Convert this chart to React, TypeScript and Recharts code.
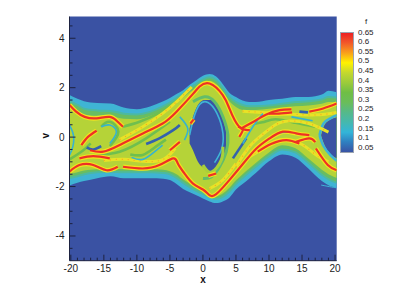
import { Area, ComposedChart, Line, ReferenceArea, XAxis, YAxis } from 'recharts';

type Pt = [number, number];

// band outlines of the phase space structure (x, then v limits)
const bandX = [-20.2, -19, -18, -16, -14, -12, -10, -8, -6, -5, -4, -3, -2, -1, 0, 1, 2, 3, 4, 5, 6, 7, 8, 10, 12, 14, 16, 18, 19, 20.25];
const tealTop = [1.7, 1.55, 1.45, 1.38, 1.36, 1.2, 1.13, 1.24, 1.45, 1.58, 1.74, 1.9, 2.12, 2.3, 2.48, 2.55, 2.45, 2.15, 1.8, 1.62, 1.48, 1.42, 1.42, 1.5, 1.55, 1.62, 1.62, 1.72, 1.88, 1.82];
const tealBot = [-1.96, -1.85, -1.78, -1.66, -1.58, -1.66, -1.66, -1.66, -1.68, -1.74, -1.9, -2.1, -2.23, -2.35, -2.48, -2.6, -2.67, -2.6, -2.45, -2.12, -1.9, -1.68, -1.45, -0.98, -0.7, -0.83, -1.28, -1.78, -1.95, -2.06];
const greenTop = [1.45, 1.3, 1.15, 1.08, 1.06, 0.95, 0.92, 1.02, 1.25, 1.4, 1.58, 1.76, 1.98, 2.15, 2.33, 2.42, 2.3, 1.98, 1.62, 1.42, 1.3, 1.25, 1.25, 1.28, 1.35, 1.42, 1.45, 1.52, 1.62, 1.6];
const greenBot = [-1.65, -1.58, -1.5, -1.42, -1.4, -1.42, -1.42, -1.42, -1.45, -1.5, -1.65, -1.85, -2.02, -2.17, -2.3, -2.42, -2.5, -2.42, -2.2, -1.9, -1.65, -1.42, -1.2, -0.78, -0.5, -0.62, -1.05, -1.52, -1.7, -1.85];
const coreTop = [1.25, 1.05, 0.92, 0.86, 0.84, 0.74, 0.72, 0.85, 1.08, 1.22, 1.4, 1.6, 1.82, 2.0, 2.2, 2.28, 2.15, 1.82, 1.45, 1.22, 1.1, 1.08, 1.1, 1.15, 1.2, 1.25, 1.28, 1.35, 1.42, 1.42];
const coreBot = [-1.5, -1.42, -1.35, -1.3, -1.28, -1.3, -1.3, -1.3, -1.32, -1.38, -1.5, -1.7, -1.88, -2.05, -2.18, -2.3, -2.38, -2.28, -2.05, -1.75, -1.5, -1.27, -1.05, -0.62, -0.33, -0.45, -0.88, -1.32, -1.5, -1.65];

// blue holes
const eyeX = [-2.02, -1.51, -0.76, 0.25, 1.26, 2.27, 3.03, 3.53];
const eyeTop = [0.35, 0.82, 1.3, 1.5, 1.5, 1.16, 0.76, 0.22];
const eyeBot = [-0.26, -0.53, -1.0, -1.27, -1.43, -1.2, -0.86, -0.46];
const ringX = [17.9, 18.4, 19.2, 20.25];
const ringTop = [0.1, 0.49, 0.69, 0.8];
const ringBot = [0.05, -0.32, -0.66, -0.86];

// filaments, as (x, v)
const red1: Pt[] = [[-20.2, 1.3], [-19.2, 1.03], [-17.9, 0.82], [-16.1, 0.76], [-14.1, 0.82], [-12.9, 0.62], [-12.1, 0.42]];
const red2: Pt[] = [[-17.1, -0.53], [-15.1, -0.59], [-12.6, -0.32], [-9.1, 0.15], [-6.1, 0.55], [-4, 1.03], [-1.5, 1.75], [-0.5, 2.05], [1, 2.17], [3, 1.7], [4, 1.16], [4.8, 0.69], [5.8, 0.35], [7.1, 0.28]];
const red3: Pt[] = [[-12.1, -1.2], [-9.1, -1.27], [-6.6, -1.13], [-4.5, -0.86], [-3.8, -1.07], [-2.8, -1.47], [-1.5, -1.88], [0, -2.12], [1, -2.35], [2, -2.31], [4, -1.74], [6.1, -1.07], [8.1, -0.46], [10.1, -0.05], [12.1, 0.22], [14.1, 0.15], [16.1, 0.08]];
const red4: Pt[] = [[-20.2, -1.4], [-18.7, -1.13], [-16.6, -1.13], [-14.6, -1.34], [-12.9, -1.2]];
const red5: Pt[] = [[-18.7, -0.86], [-16.6, -0.77], [-14.1, -0.86]];
const red6: Pt[] = [[-18.4, -0.32], [-17.4, 0.01], [-16.1, 0.26]];
const red7: Pt[] = [[5.8, 0.35], [8.1, 0.69], [9.6, 0.92], [11.6, 1.09], [13.4, 1.12]];
const red8: Pt[] = [[17.1, -0.46], [18.9, -1.13], [20.25, -1.34]];
const red9: Pt[] = [[14.1, -0.19], [16.1, -0.05], [17, -0.2]];
const red10: Pt[] = [[16.1, 1.03], [18.2, 1.16], [20.25, 1.36]];
const red11: Pt[] = [[-1.9, 0.55], [-1.4, 0.72]];
const red12: Pt[] = [[0.8, -1.57], [2, -1.47]];
const red13: Pt[] = [[5.3, 0.42], [6.05, 0.31], [5.5, 0.01]];
const red14: Pt[] = [[10, 0.95], [11.5, 0.95], [13.5, 1]];
const red15: Pt[] = [[8.3, -0.59], [10.3, -0.28], [12.6, -0.12], [14.6, -0.26]];
const red16: Pt[] = [[-5, -0.53], [-3.5, -0.19]];

const yellow1: Pt[] = [[-12.6, -0.1], [-9.1, 0.42], [-6.1, 0.96], [-4, 1.43], [-1.7, 2.03]];
const yellow2: Pt[] = [[-15, -0.95], [-12, -0.9], [-9, -0.98], [-6, -0.9], [-4.2, -0.45]];
const yellow3: Pt[] = [[5, -1.2], [7, -0.4], [9, 0.1], [11, 0.5], [13, 0.65], [16, 0.55], [19, 0.2]];
const yellow4: Pt[] = [[7, -0.8], [9.5, -0.4], [12, -0.1], [15, -0.3], [17, -0.7], [19, -1]];
const yellow5: Pt[] = [[6, 1.05], [12, 0.95], [17, 0.9], [20.25, 1]];
const yellow6: Pt[] = [[1, -2.08], [3, -1.74], [5, -1.07]];

const green1: Pt[] = [[-16.6, -0.73], [-12.6, -0.59], [-8.6, -0.05], [-5, 0.62]];
const green2: Pt[] = [[-12.1, 0.42], [-9.6, 0.62], [-6.6, 0.98], [-4, 1.4]];
const green3: Pt[] = [[-15.4, 0.42], [-14.1, 0.62], [-12.8, 0.22], [-14.1, -0.36]];
const green4: Pt[] = [[-11, -0.7], [-9.1, -0.72], [-7.3, -0.42], [-5.6, -0.1]];
const green5: Pt[] = [[6.5, 0.5], [9, 0.6], [11, 0.72], [14, 0.58], [17, 0.42]];
const green6: Pt[] = [[-20.2, -0.9], [-18.2, -0.55], [-17, -0.25]];

const blue1: Pt[] = [[-17.6, -0.42], [-16.6, -0.5], [-15.4, -0.36]];
const blue2: Pt[] = [[-8.6, -0.28], [-6.6, -0.05], [-4.5, 0.28], [-3.5, 0.49]];
const blue3: Pt[] = [[4.54, -0.86], [6.56, -0.05]];
const blue4: Pt[] = [[14.6, 1.03], [15.9, 1]];

const cyan1: Pt[] = [[-10.8, -0.82], [-9.1, -0.9], [-7.3, -0.59], [-6.1, -0.32]];
const cyan2: Pt[] = [[-15.4, 0.42], [-14.1, 0.49], [-13.1, 0.22], [-14.1, -0.26]];
const cyan3: Pt[] = [[-20.2, 0.49], [-19.6, 0.08], [-19.7, -0.39], [-20.2, -0.73]];
const cyan4: Pt[] = [[-3.5, 0.82], [-2.3, 0.35], [-2.8, -0.12]];
const cyan5: Pt[] = [[6.05, -0.26], [7.56, 0.42], [9.08, 0.96]];
const cyan6: Pt[] = [[13.4, 0.82], [16.6, 0.66]];
const cyan7: Pt[] = [[11.6, 0.18], [13.1, 0.22]];
const ringUpper: Pt[] = [[17.65, 0.08], [18.25, 0.55], [19.3, 0.76], [20.25, 0.89]];
const ringLower: Pt[] = [[17.65, 0.08], [18.25, -0.36], [19.3, -0.73], [20.25, -0.96]];
const eyeInner: Pt[] = [[-2.02, 0.08], [-1.41, 0.76], [-0.5, 1.32], [0.76, 1.4], [2.12, 0.96], [3.03, 0.15], [2.77, -0.53], [1.76, -1.03]];
const eyeOuter: Pt[] = [[-1.5, 1.43], [0.25, 1.63], [1.76, 1.43], [3.03, 0.82], [3.78, 0.08], [3.53, -0.59], [2.52, -1.2], [1.26, -1.61], [0, -1.67]];
const eyeSwirl: Pt[] = [[0, -1.13], [1.26, -1.42], [2.77, -0.93], [3.03, -0.39]];
const rimLower: Pt[] = [[17.9, -1.94], [19.5, -2.02], [20.25, -2.05]];

const legendLabels = ['0.65', '0.6', '0.55', '0.5', '0.45', '0.4', '0.35', '0.3', '0.25', '0.2', '0.15', '0.1', '0.05'];
const legendColors = ['#ed2024', '#f2592a', '#f9a01b', '#fff200', '#c4d82e', '#9ccb3b', '#6fbe45', '#6abd5a', '#55b98a', '#45b8ae', '#33b5d8', '#2f7fc0', '#3953a4'];

const xTicks = Array.from({ length: 41 }, (_, i) => i - 20);
const yTicks = Array.from({ length: 19 }, (_, i) => i * 0.5 - 4.5);

const toRows = (xs: number[], top: number[], bot: number[]) =>
	xs.map((x, i) => ({ x, range: [bot[i], top[i]] }));
const toLine = (pts: Pt[]) => pts.map(([x, v]) => ({ x, v }));

const BG = '#3a52a3';
const AXIS = '#1d2240';

const yellows = [yellow1, yellow2, yellow3, yellow4, yellow5, yellow6];
const reds = [red1, red2, red3, red4, red5, red6, red7, red8, red9, red10, red11, red12, red13, red14, red15, red16];

const strands: { pts: Pt[]; color: string; width: number; dash?: string }[] = [
	{ pts: eyeOuter, color: '#62bd6a', width: 3 },
	{ pts: eyeInner, color: '#3eb4d6', width: 1.6 },
	{ pts: eyeSwirl, color: '#a8d03a', width: 3 },
	{ pts: ringUpper, color: '#3eb4d6', width: 2.5 },
	{ pts: ringLower, color: '#3eb4d6', width: 2.5 },
	{ pts: rimLower, color: '#3eb4d6', width: 1 },
	...[green1, green2, green3, green4, green5, green6].map((pts) => ({ pts, color: '#6fbf4e', width: 2.6 })),
	...yellows.map((pts) => ({ pts, color: '#e8e226', width: 3 })),
	...yellows.map((pts) => ({ pts, color: '#f7a51f', width: 1.2, dash: '1 5' })),
	...reds.map((pts) => ({ pts, color: '#f3e21f', width: 4.5 })),
	...[blue1, blue2, blue3, blue4].map((pts) => ({ pts, color: '#3362ad', width: 2.6 })),
	...[cyan1, cyan2, cyan3, cyan4, cyan5, cyan6, cyan7].map((pts) => ({ pts, color: '#37b3cf', width: 1.6 })),
	...reds.map((pts) => ({ pts, color: '#ee3124', width: 2.2 })),
];

function XTick({ x, y, payload }: any) {
	const major = payload.value % 5 === 0;
	return (
		<g>
			<line x1={x} x2={x} y1={y} y2={y - (major ? 6 : 3)} stroke={AXIS} />
			{major && (
				<text x={x} y={y + 11} textAnchor="middle" fontSize={10} fill="#222">
					{payload.value}
				</text>
			)}
		</g>
	);
}

function YTick({ x, y, payload }: any) {
	const major = payload.value % 2 === 0;
	return (
		<g>
			<line x1={x} x2={x + (major ? 6 : 3)} y1={y} y2={y} stroke={AXIS} />
			{major && (
				<text x={x - 5} y={y + 3.5} textAnchor="end" fontSize={10} fill="#222">
					{payload.value}
				</text>
			)}
		</g>
	);
}

function ColorBar() {
	const gradient = `linear-gradient(to bottom, ${legendColors.join(', ')})`;
	return (
		<div style={{ position: 'absolute', left: 0, top: 0, fontSize: 8, color: '#222' }}>
			<div style={{ position: 'absolute', left: 365, top: 17 }}>f</div>
			<div style={{ position: 'absolute', left: 340, top: 32, width: 12, height: 119, border: '0.5px solid #9aa3b0', background: gradient }} />
			{legendLabels.map((t, i) => (
				<div key={t} style={{ position: 'absolute', left: 358, top: 27.5 + i * 9.6, lineHeight: '10px' }}>
					{t}
				</div>
			))}
		</div>
	);
}

export default function App() {
	return (
		<div style={{ position: 'absolute', left: 0, top: 0, width: 407, height: 288, background: '#fff', fontFamily: '"Liberation Sans", Arial, sans-serif' }}>
			<ComposedChart width={407} height={288} margin={{ top: 16.5, right: 70.3, bottom: 0, left: 29.5 }}>
				<XAxis
					type="number"
					dataKey="x"
					domain={[-20.2, 20.25]}
					ticks={xTicks}
					interval={0}
					height={27.3}
					tickSize={0}
					tickMargin={0}
					tick={XTick}
					axisLine={{ stroke: AXIS }}
					tickLine={false}
					allowDataOverflow
					label={{ value: 'x', position: 'insideBottom', offset: 5, fontSize: 10, fontWeight: 700, fill: '#111' }}
				/>
				<YAxis
					type="number"
					domain={[-5, 4.88]}
					ticks={yTicks}
					interval={0}
					width={40}
					tickSize={0}
					tickMargin={0}
					tick={YTick}
					axisLine={{ stroke: AXIS }}
					tickLine={false}
					allowDataOverflow
					label={{ value: 'v', angle: -90, position: 'insideLeft', offset: 16, fontSize: 10, fontWeight: 700, fill: '#111' }}
				/>
				<ReferenceArea x1={-20.2} x2={20.25} y1={-5} y2={4.88} fill={BG} fillOpacity={1} stroke="none" />
				<Area data={toRows(bandX, tealTop, tealBot)} dataKey="range" type="monotone" fill="#3fb4d4" fillOpacity={1} stroke="none" isAnimationActive={false} />
				<Area data={toRows(bandX, greenTop, greenBot)} dataKey="range" type="monotone" fill="#68bd62" fillOpacity={1} stroke="#4cb9a0" strokeWidth={2} isAnimationActive={false} />
				<Area data={toRows(bandX, coreTop, coreBot)} dataKey="range" type="monotone" fill="#b5d338" fillOpacity={1} stroke="none" isAnimationActive={false} />
				<Area data={toRows(eyeX, eyeTop, eyeBot)} dataKey="range" type="monotone" fill={BG} fillOpacity={1} stroke="none" isAnimationActive={false} />
				<Area data={toRows(ringX, ringTop, ringBot)} dataKey="range" type="monotone" fill={BG} fillOpacity={1} stroke="none" isAnimationActive={false} />
				{strands.map((s, i) => (
					<Line
						key={i}
						data={toLine(s.pts)}
						dataKey="v"
						type="natural"
						stroke={s.color}
						strokeWidth={s.width}
						strokeDasharray={s.dash}
						dot={false}
						activeDot={false}
						isAnimationActive={false}
					/>
				))}
			</ComposedChart>
			<ColorBar />
		</div>
	);
}
